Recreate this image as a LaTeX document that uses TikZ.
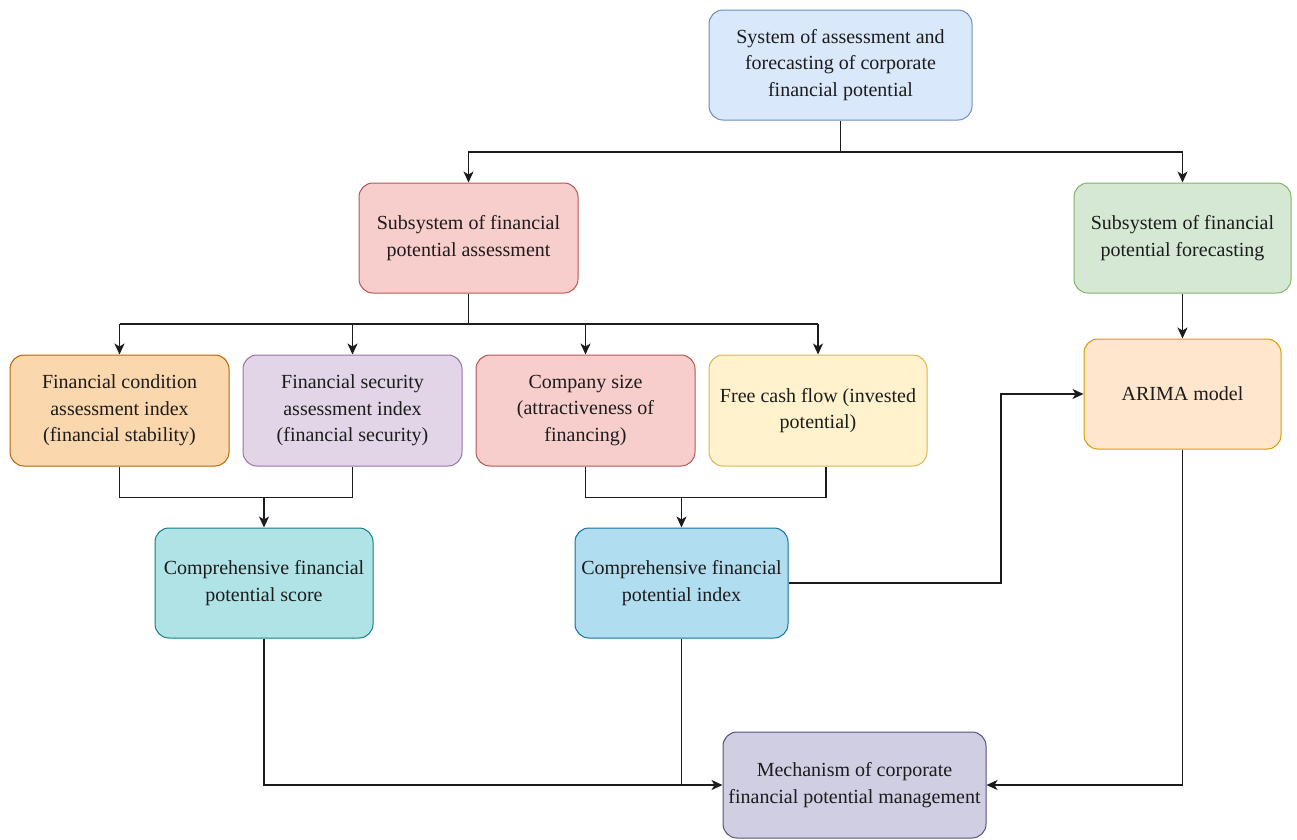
\documentclass[tikz,border=0pt]{standalone}
\usepackage{fontspec}
\setmainfont{Liberation Serif}
\usetikzlibrary{arrows.meta}

\definecolor{bluefill}{HTML}{DAE8FC}\definecolor{blueline}{HTML}{6C8EBF}
\definecolor{redfill}{HTML}{F8CECC}\definecolor{redline}{HTML}{B85450}
\definecolor{greenfill}{HTML}{D5E8D4}\definecolor{greenline}{HTML}{82B366}
\definecolor{orangefill}{HTML}{FAD7AC}\definecolor{orangeline}{HTML}{B46504}
\definecolor{purplefill}{HTML}{E1D5E7}\definecolor{purpleline}{HTML}{9673A6}
\definecolor{yellowfill}{HTML}{FFF2CC}\definecolor{yellowline}{HTML}{D6B656}
\definecolor{peachfill}{HTML}{FFE6CC}\definecolor{peachline}{HTML}{D79B00}
\definecolor{tealfill}{HTML}{B0E3E6}\definecolor{tealline}{HTML}{0E8088}
\definecolor{skyfill}{HTML}{B1DDF0}\definecolor{skyline}{HTML}{10739E}
\definecolor{slatefill}{HTML}{D0CEE2}\definecolor{slateline}{HTML}{56517E}
\definecolor{ink}{HTML}{1C1C1C}

\tikzset{
  box/.style={draw, rounded corners=14pt, line width=1pt, align=center,
    text=ink, inner sep=4pt,
    font=\fontsize{20}{26.5}\selectfont},
  wire/.style={line width=1.4pt, draw=ink},
  arr/.style={wire, -{Stealth[length=11pt,width=10pt,inset=3pt]}}
}

\begin{document}
\begin{tikzpicture}[x=1pt,y=-1pt]
\useasboundingbox (0,0) rectangle (1297,839);

% level 0
\node[box, fill=bluefill, draw=blueline, minimum width=263pt, minimum height=110pt]
  (top) at (840.5,65) {System of assessment and\\forecasting of corporate\\financial potential};

% level 1
\node[box, fill=redfill, draw=redline, minimum width=219pt, minimum height=110pt]
  (assess) at (468.5,238) {Subsystem of financial\\potential assessment};
\node[box, fill=greenfill, draw=greenline, minimum width=217pt, minimum height=110pt]
  (fore) at (1182.5,238) {Subsystem of financial\\potential forecasting};

% level 2: assessment indicators
\node[box, fill=orangefill, draw=orangeline, minimum width=219pt, minimum height=111pt]
  (cond) at (119.5,410.5) {Financial condition\\assessment index\\(financial stability)};
\node[box, fill=purplefill, draw=purpleline, minimum width=219pt, minimum height=111pt]
  (sec) at (352.5,410.5) {Financial security\\assessment index\\(financial security)};
\node[box, fill=redfill, draw=redline, minimum width=219pt, minimum height=111pt]
  (size) at (585.5,410.5) {Company size\\(attractiveness of\\financing)};
\node[box, fill=yellowfill, draw=yellowline, minimum width=218pt, minimum height=111pt]
  (free) at (818,410.5) {Free cash flow (invested\\potential)};

% forecasting model
\node[box, fill=peachfill, draw=peachline, minimum width=197pt, minimum height=110pt]
  (arima) at (1182.5,394) {ARIMA model};

% level 3: aggregated results
\node[box, fill=tealfill, draw=tealline, minimum width=218pt, minimum height=110pt]
  (score) at (264,583) {Comprehensive financial\\potential score};
\node[box, fill=skyfill, draw=skyline, minimum width=213pt, minimum height=110pt]
  (index) at (681.5,583) {Comprehensive financial\\potential index};

% level 4
\node[box, fill=slatefill, draw=slateline, minimum width=263pt, minimum height=106pt]
  (mech) at (854.5,785) {Mechanism of corporate\\financial potential management};

% system -> subsystems
\coordinate (j0) at (840.5,152);
\draw[wire] (top.south) -- (j0);
\draw[arr] (j0) -| (assess.north);
\draw[arr] (j0) -| (fore.north);

% assessment subsystem -> indicators
\coordinate (j1) at (468.5,324);
\draw[wire] (assess.south) -- (j1);
\draw[wire] (cond.north |- j1) -- (free.north |- j1);
\foreach \n in {cond,sec,size,free}
  \draw[arr] (\n.north |- j1) -- (\n.north);

% indicators -> comprehensive score
\draw[wire] (cond.south) -- ++(0,31) -| (sec.south);
\coordinate (j2) at (264,497);
\draw[arr] (score.north |- j2) -- (score.north);

% indicators -> comprehensive index
\coordinate (fs) at ([xshift=8pt]free.south);
\draw[wire] (size.south) -- ++(0,31) -| (fs);
\draw[arr] (index.north |- j2) -- (index.north);

% forecasting subsystem -> ARIMA
\draw[arr] (fore.south) -- (arima.north);

% index -> ARIMA
\coordinate (k) at (1001,394);
\draw[arr] (index.east) -| (k) -- (arima.west);

% results -> management mechanism
\draw[arr] (score.south) |- (mech.west);
\draw[wire] (index.south) -- (index.south |- mech.west);
\draw[arr] (arima.south) |- (mech.east);
\end{tikzpicture}
\end{document}
